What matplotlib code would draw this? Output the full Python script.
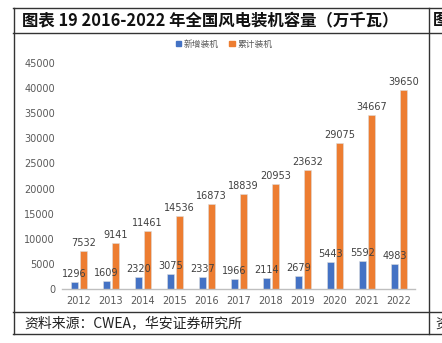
import matplotlib
matplotlib.use("Agg")
import matplotlib.pyplot as plt
from matplotlib.lines import Line2D
from matplotlib.patches import Rectangle
import numpy as np

plt.rcParams['font.family'] = ['DejaVu Sans', 'Noto Sans CJK SC']

years = ["2012", "2013", "2014", "2015", "2016", "2017", "2018", "2019", "2020", "2021", "2022"]
new_cap = [1296, 1609, 2320, 3075, 2337, 1966, 2114, 2679, 5443, 5592, 4983]
cum_cap = [7532, 9141, 11461, 14536, 16873, 18839, 20953, 23632, 29075, 34667, 39650]
series_names = ["新增装机", "累计装机"]
title = "图表 19 2016-2022 年全国风电装机容量（万千瓦）"
source = "资料来源：CWEA，华安证券研究所"

W, H = 442, 343
fig = plt.figure(figsize=(W / 100, H / 100), dpi=100)

def fx(px):
    return px / W

def fy(py):
    return 1 - py / H

# frame lines
lc = "#333333"
lw = 1.0
for (x0, y0, x1, y1) in [
    (13, 7.5, 442, 7.5), (13, 32.5, 442, 32.5), (13, 312, 442, 312), (13, 334, 442, 334),
    (13.5, 7.5, 13.5, 334), (428.5, 7.5, 428.5, 334)]:
    fig.add_artist(Line2D([fx(x0), fx(x1)], [fy(y0), fy(y1)], color=lc, lw=lw))

cjk = ['Noto Sans CJK SC', 'DejaVu Sans']
fig.text(fx(22), fy(20), title, family=cjk, fontsize=11.8, fontweight='bold',
         va='center', ha='left', color='#111111')
fig.text(fx(433), fy(20), "图", family=cjk, fontsize=11.8, fontweight='bold',
         va='center', ha='left', color='#111111')
fig.text(fx(24), fy(323.5), source, family=cjk, fontsize=10, va='center', ha='left',
         color='#222222')
fig.text(fx(435), fy(323.5), "资", family=cjk, fontsize=10, va='center', ha='left',
         color='#222222')

ax = fig.add_axes([fx(62), fy(289), fx(415) - fx(62), fy(63) - fy(289)])
x = np.arange(len(years))
bw = 0.24
off = 0.14
blue = "#4472C4"
orange = "#ED7D31"
ax.bar(x - off, new_cap, bw, color=blue, edgecolor='#dddddd', linewidth=0.4, label=series_names[0])
ax.bar(x + off, cum_cap, bw, color=orange, edgecolor='#dddddd', linewidth=0.4, label=series_names[1])

lab_color = "#404040"
for xi, v in zip(x, new_cap):
    ax.text(xi - off, v + 600, str(v), ha='center', va='bottom', fontsize=7, color=lab_color)
for xi, v in zip(x, cum_cap):
    ax.text(xi + off, v + 600, str(v), ha='center', va='bottom', fontsize=7, color=lab_color)

ax.set_xlim(-0.53, 10.5)
ax.set_ylim(0, 45000)
ax.set_yticks(np.arange(0, 45001, 5000))
ax.set_xticks(x)
ax.set_xticklabels(years)
ax.tick_params(axis='both', length=0, labelsize=7, colors='#595959')
ax.tick_params(axis='y', pad=5)
ax.tick_params(axis='x', pad=5)
for s in ['top', 'right', 'left']:
    ax.spines[s].set_visible(False)
ax.spines['bottom'].set_color('#bfbfbf')
ax.spines['bottom'].set_linewidth(1.0)
ax.patch.set_alpha(0)

# legend
fig.legend(handles=[Rectangle((0, 0), 1, 1, color=blue), Rectangle((0, 0), 1, 1, color=orange)],
           labels=series_names, loc='center', bbox_to_anchor=(fx(224), fy(44)),
           ncol=2, frameon=False, prop={'family': cjk, 'size': 6.3},
           handlelength=0.6, handleheight=0.6, handletextpad=0.3, columnspacing=1.2,
           labelcolor='#595959')

fig.savefig("out.png", dpi=100)
